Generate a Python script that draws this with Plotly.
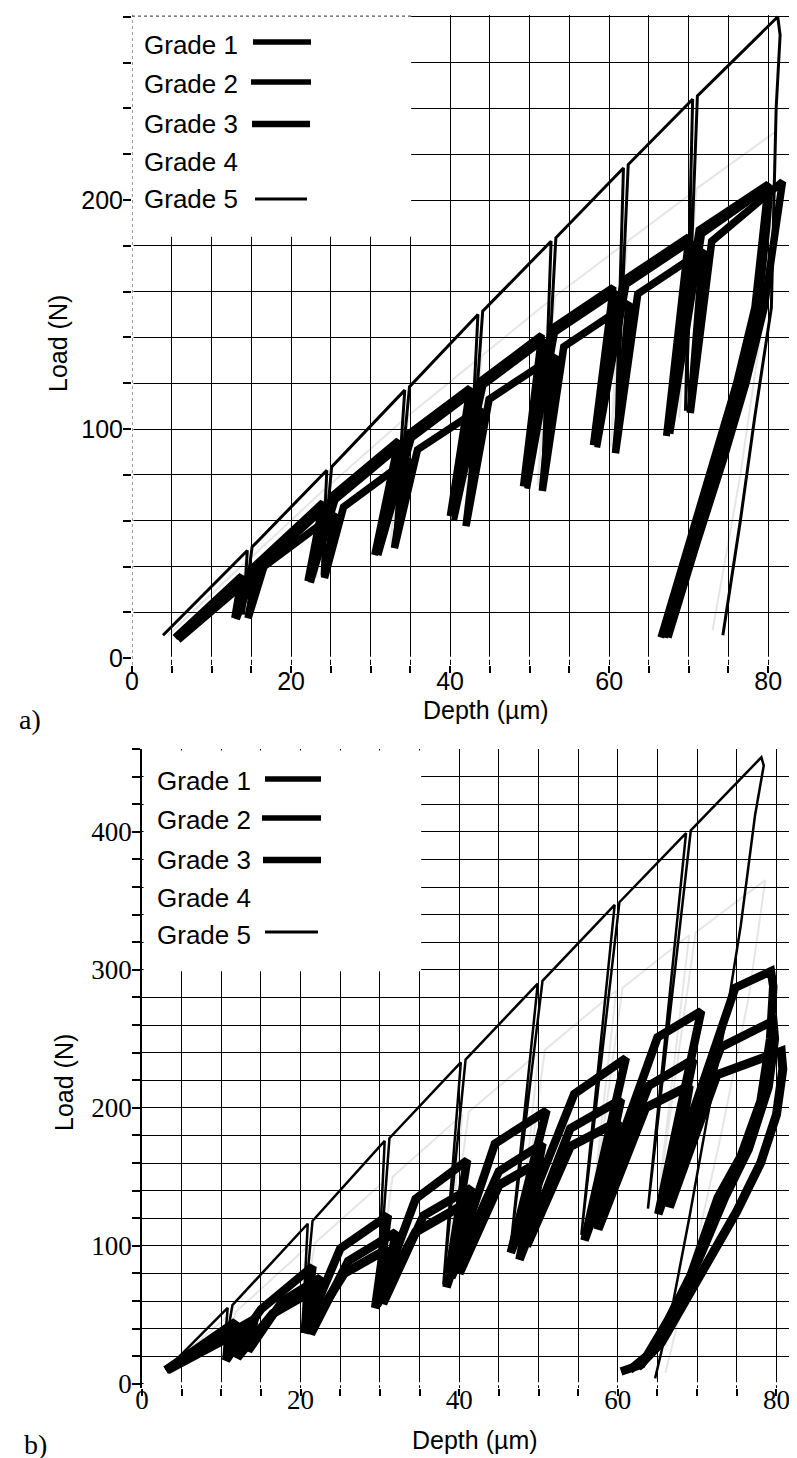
import plotly.graph_objects as go

W, H = 797, 1458

# ---------------- Panel a) data (Depth in µm, Load in N) ----------------
a_g1_depth = [5.4, 13.8, 12.9, 15.0, 24.0, 22.1, 25.2, 33.5, 30.5, 34.8, 42.5, 40.0, 43.8, 51.5, 49.2, 52.8,
              60.5, 58.0, 61.8, 70.0, 67.2, 71.3, 80.0, 79.5, 78.3, 76.0, 73.2, 70.0, 66.5]
a_g1_load = [9, 36, 17.5, 39, 68, 33.6, 71, 95, 45, 98, 118, 62, 121, 141, 75, 144,
             162, 93, 165, 184, 97, 187, 207, 190, 153, 120, 87, 50, 9]

a_g2_depth = [5.6, 14.2, 13.2, 15.4, 24.4, 22.5, 25.6, 33.9, 31.0, 35.2, 42.9, 40.5, 44.2, 51.9, 49.7, 53.2,
              60.9, 58.5, 62.2, 70.4, 67.7, 71.7, 80.3, 79.9, 78.8, 76.5, 73.7, 70.5, 67.0]
a_g2_load = [9, 34, 17, 37, 66, 33, 69, 93, 45, 96, 116, 60, 119, 139, 74, 142,
             160, 92, 163, 182, 98, 185, 206, 188, 152, 119, 86, 49, 9]

a_g3_depth = [5.8, 15.6, 14.6, 16.6, 25.5, 24.2, 26.6, 34.8, 33.0, 35.9, 43.8, 42.0, 44.9, 53.2, 51.6, 54.3,
              62.5, 60.8, 63.6, 71.8, 70.2, 72.9, 81.8, 81.0, 79.5, 77.2, 74.4, 71.0, 67.4]
a_g3_load = [8, 37, 17.5, 40, 63, 35, 66, 87, 48, 91, 109, 57.6, 113, 132, 73, 136,
             155, 89.5, 159, 178, 107, 182, 208, 190, 153, 120, 87, 50, 9]

a_g4_depth = [4.5, 14.3, 13.5, 15.0, 24.3, 23.2, 25.0, 34.1, 32.5, 34.8, 43.3, 41.8, 44.0, 52.5, 51.0, 53.2,
              61.6, 60.2, 62.3, 70.4, 68.8, 71.0, 81.0, 80.5, 79.0, 76.5, 73.0]
a_g4_load = [10, 42, 19, 44, 74, 35, 76, 104, 50, 106, 130, 60, 132, 156, 75, 158,
             180, 92, 182, 203, 105, 205, 230, 200, 140, 80, 12]

a_g5_depth = [3.9, 14.5, 14.0, 15.1, 24.5, 23.9, 25.1, 34.3, 33.0, 34.9, 43.5, 42.2, 44.1, 52.7, 51.6, 53.3,
              61.8, 60.8, 62.4, 70.5, 69.6, 71.1, 81.2, 81.5, 81.0, 80.4, 78.3, 76.5, 74.3]
a_g5_load = [10, 47, 19, 48.5, 82, 36, 83.5, 117, 50, 118.5, 150, 59, 151.5, 182, 75, 183.5,
             214, 91, 215.5, 244, 108, 245.5, 280, 272, 240, 153, 105, 60, 10]

# ---------------- Panel b) data ----------------
b_g1_depth = [3.0, 14.2, 13.4, 17.7, 22.5, 21.3, 26.0, 32.0, 30.4, 35.5, 41.5, 39.0, 45.0, 50.5, 47.6, 54.0,
              60.4, 57.0, 63.9, 69.5, 65.8, 73.0, 79.6, 79.8, 79.0, 76.5, 73.5, 70.2, 67.2, 64.0, 61.5]
b_g1_load = [10, 47, 24, 60, 77, 36, 89, 110, 58, 122, 142, 77, 154, 174, 90, 185,
             206, 115, 216, 235, 133, 244, 263, 250, 215, 170, 135, 90, 55, 22, 10]

b_g2_depth = [3.0, 11.8, 10.6, 15.0, 21.5, 20.5, 25.0, 31.0, 29.4, 34.5, 41.0, 38.4, 44.5, 51.0, 46.5, 54.5,
              61.0, 55.8, 65.0, 70.5, 65.1, 74.8, 79.3, 79.6, 79.2, 78.0, 75.5, 72.6, 69.2, 66.3, 63.0, 60.4]
b_g2_load = [10, 45, 17, 54, 85, 37, 98, 122, 55, 134, 162, 70, 174, 198, 95, 210,
             236, 104, 251, 270, 123, 287, 299, 288, 250, 205, 165, 135, 79, 46, 14, 9]

b_g3_depth = [3.2, 13.0, 12.0, 16.5, 22.0, 20.9, 25.5, 31.0, 29.6, 34.5, 41.5, 40.0, 45.0, 50.5, 48.5, 54.0,
              60.0, 57.5, 63.5, 69.0, 66.5, 72.5, 80.6, 80.8, 80.0, 78.0, 75.0, 71.8, 68.5, 65.5, 62.5]
b_g3_load = [10, 40, 19, 51, 69, 38, 80, 98, 57, 110, 133, 80, 144, 162, 100, 172,
             190, 112, 200, 216, 128, 224, 241, 228, 195, 160, 125, 92, 60, 30, 12]

b_g4_depth = [3.0, 11.0, 10.4, 11.8, 21.0, 20.0, 21.8, 30.8, 29.5, 31.6, 40.4, 38.5, 41.2, 50.0, 47.5, 50.8,
              59.8, 56.5, 60.6, 69.0, 65.0, 69.8, 78.6, 76.5, 73.0, 69.5, 66.0]
b_g4_load = [10, 50, 20, 52, 100, 40, 102, 148, 60, 150, 195, 80, 197, 240, 98, 242,
             285, 115, 287, 325, 130, 327, 365, 280, 180, 90, 8]

b_g5_depth = [3.0, 10.8, 10.3, 11.4, 20.9, 20.2, 21.5, 30.6, 29.6, 31.2, 40.2, 38.0, 40.8, 49.9, 46.5, 50.5,
              59.6, 55.4, 60.2, 68.6, 63.8, 69.2, 78.1, 78.4, 77.3, 75.5, 73.5, 71.2, 69.0, 67.0, 64.7]
b_g5_load = [10, 55, 20, 57, 116, 37, 118, 176, 55, 178, 233, 72, 235, 290, 100, 292,
             347, 108, 349, 399, 127, 401, 454, 448, 412, 332, 260, 190, 120, 60, 4]

grade_names = ["Grade 1", "Grade 2", "Grade 3", "Grade 4", "Grade 5"]

# ticks
x_tickvals = list(range(0, 81, 5))
x_ticktext = [str(v) if v % 20 == 0 else "" for v in x_tickvals]
ya_tickvals = list(range(0, 281, 20))
ya_ticktext = [str(v) if v % 100 == 0 else "" for v in ya_tickvals]
yb_tickvals = list(range(0, 461, 20))
yb_ticktext = [str(v) if v % 100 == 0 and v <= 400 else "" for v in yb_tickvals]

SANS = "Liberation Sans, Arial, sans-serif"
SERIF = "Liberation Serif, Times New Roman, serif"
LIGHT = "rgba(0,0,0,0.10)"


def px(x):
    return x / W


def py(y):
    return 1 - y / H


fig = go.Figure()


def add(x, y, width, color, xa, ya, name):
    fig.add_trace(go.Scatter(x=x, y=y, mode="lines", name=name,
                             line=dict(color=color, width=width),
                             xaxis=xa, yaxis=ya, hoverinfo="skip", showlegend=False))


# panel a
add(a_g4_depth, a_g4_load, 2, LIGHT, "x", "y", grade_names[3])
add(a_g3_depth, a_g3_load, 7.5, "black", "x", "y", grade_names[2])
add(a_g2_depth, a_g2_load, 6, "black", "x", "y", grade_names[1])
add(a_g1_depth, a_g1_load, 7, "black", "x", "y", grade_names[0])
add(a_g5_depth, a_g5_load, 3, "black", "x", "y", grade_names[4])
# panel b
add(b_g4_depth, b_g4_load, 2, LIGHT, "x2", "y2", grade_names[3])
add(b_g3_depth, b_g3_load, 9, "black", "x2", "y2", grade_names[2])
add(b_g1_depth, b_g1_load, 8.5, "black", "x2", "y2", grade_names[0])
add(b_g2_depth, b_g2_load, 8.5, "black", "x2", "y2", grade_names[1])
add(b_g5_depth, b_g5_load, 2.5, "black", "x2", "y2", grade_names[4])

common_x = dict(tickmode="array", tickvals=x_tickvals, ticktext=x_ticktext, ticks="outside",
                ticklen=7, tickwidth=1.5, tickcolor="black", showgrid=True, gridcolor="black",
                gridwidth=1.1, zeroline=False, automargin=False, fixedrange=True)
common_y = dict(tickmode="array", ticks="outside", ticklen=8, tickwidth=1.5, tickcolor="black",
                showgrid=True, gridcolor="black", gridwidth=1.1, zeroline=False,
                automargin=False, fixedrange=True, ticklabelstandoff=-5)

fig.update_layout(
    width=W, height=H, margin=dict(l=0, r=0, t=0, b=0),
    paper_bgcolor="white", plot_bgcolor="white", showlegend=False,
    xaxis=dict(domain=[px(124), px(792)], range=[0, 84], anchor="y", showline=False,
               ticklabelstandoff=-13,
               tickfont=dict(family=SANS, size=25, color="black"), **common_x),
    yaxis=dict(domain=[py(657), py(6.5)], range=[-3, 281], anchor="x", showline=False,
               tickvals=ya_tickvals, ticktext=ya_ticktext,
               tickfont=dict(family=SANS, size=25, color="black"), **common_y),
    xaxis2=dict(domain=[px(134), 1.0], range=[0, 83.6], anchor="y2", showline=False,
                ticklabelstandoff=-19,
                tickfont=dict(family=SERIF, size=27, color="black"), **common_x),
    yaxis2=dict(domain=[py(1380), py(741)], range=[-3, 460], anchor="x2", showline=True,
                linecolor="black", linewidth=1.5,
                tickvals=yb_tickvals, ticktext=yb_ticktext,
                tickfont=dict(family=SERIF, size=27, color="black"), **common_y),
)

shapes = [
    # panel a: legend area hides the grid
    dict(type="rect", xref="x", yref="y", x0=0, x1=35.1, y0=184, y1=281,
         fillcolor="white", line=dict(width=0), layer="between"),
    dict(type="line", xref="x", yref="y", x0=0, x1=84, y0=0, y1=0,
         line=dict(color="white", width=3), layer="between"),
    dict(type="line", xref="x", yref="y", x0=0, x1=0, y0=-3, y1=281,
         line=dict(color="white", width=3), layer="between"),
    dict(type="line", xref="x", yref="y", x0=0, x1=0, y0=-3, y1=281,
         line=dict(color="#555", width=1.2, dash="dot"), layer="between"),
    dict(type="line", xref="x", yref="y", x0=0, x1=35.1, y0=280.3, y1=280.3,
         line=dict(color="#555", width=1.2, dash="dot"), layer="between"),
    # panel b
    dict(type="rect", xref="x2", yref="y2", x0=0.2, x1=35.2, y0=299, y1=459,
         fillcolor="white", line=dict(width=0), layer="between"),
    dict(type="line", xref="x2", yref="y2", x0=0.2, x1=83.6, y0=0, y1=0,
         line=dict(color="white", width=3), layer="between"),
]

# legend samples (text on the left, line on the right)
legend_a = [(0, 37, 245, 303, 34, 5.5), (1, 76, 243, 303, 74, 5.5), (2, 116, 244, 302, 116, 6.5),
            (3, 154, None, None, None, 0), (4, 191, 247, 299, 191, 3)]
legend_b = [(0, 773, 257, 313, 771, 5.5), (1, 812, 254, 313, 810, 5.5), (2, 852, 255, 313, 852, 6.5),
            (3, 890, None, None, None, 0), (4, 927, 257, 310, 924, 3)]

annotations = []
for (i, ty, x0, x1, ly, lw), tx in [(e, 134) for e in legend_a] + [(e, 147) for e in legend_b]:
    annotations.append(dict(text=grade_names[i], xref="paper", yref="paper", x=px(tx), y=py(ty),
                            xanchor="left", yanchor="middle", showarrow=False,
                            font=dict(family=SANS, size=26, color="black")))
    if x0 is not None:
        shapes.append(dict(type="line", xref="paper", yref="paper", x0=px(x0), x1=px(x1),
                           y0=py(ly), y1=py(ly), line=dict(color="black", width=lw), layer="above"))

# axis titles and panel labels
annotations += [
    dict(text="Depth (µm)", xref="paper", yref="paper", x=px(478), y=py(702), xanchor="center",
         yanchor="middle", showarrow=False, font=dict(family=SANS, size=25, color="black")),
    dict(text="Depth (µm)", xref="paper", yref="paper", x=px(467), y=py(1432), xanchor="center",
         yanchor="middle", showarrow=False, font=dict(family=SANS, size=25, color="black")),
    dict(text="Load (N)", xref="paper", yref="paper", x=px(50), y=py(336), xanchor="center",
         yanchor="middle", textangle=-90, showarrow=False, font=dict(family=SANS, size=25, color="black")),
    dict(text="Load (N)", xref="paper", yref="paper", x=px(56), y=py(1075), xanchor="center",
         yanchor="middle", textangle=-90, showarrow=False, font=dict(family=SANS, size=25, color="black")),
    dict(text="a)", xref="paper", yref="paper", x=px(22), y=py(712), xanchor="center",
         yanchor="middle", showarrow=False, font=dict(family=SERIF, size=28, color="black")),
    dict(text="b)", xref="paper", yref="paper", x=px(27), y=py(1436), xanchor="center",
         yanchor="middle", showarrow=False, font=dict(family=SERIF, size=28, color="black")),
]

fig.update_layout(shapes=shapes, annotations=annotations)
fig.write_html("out.html")
